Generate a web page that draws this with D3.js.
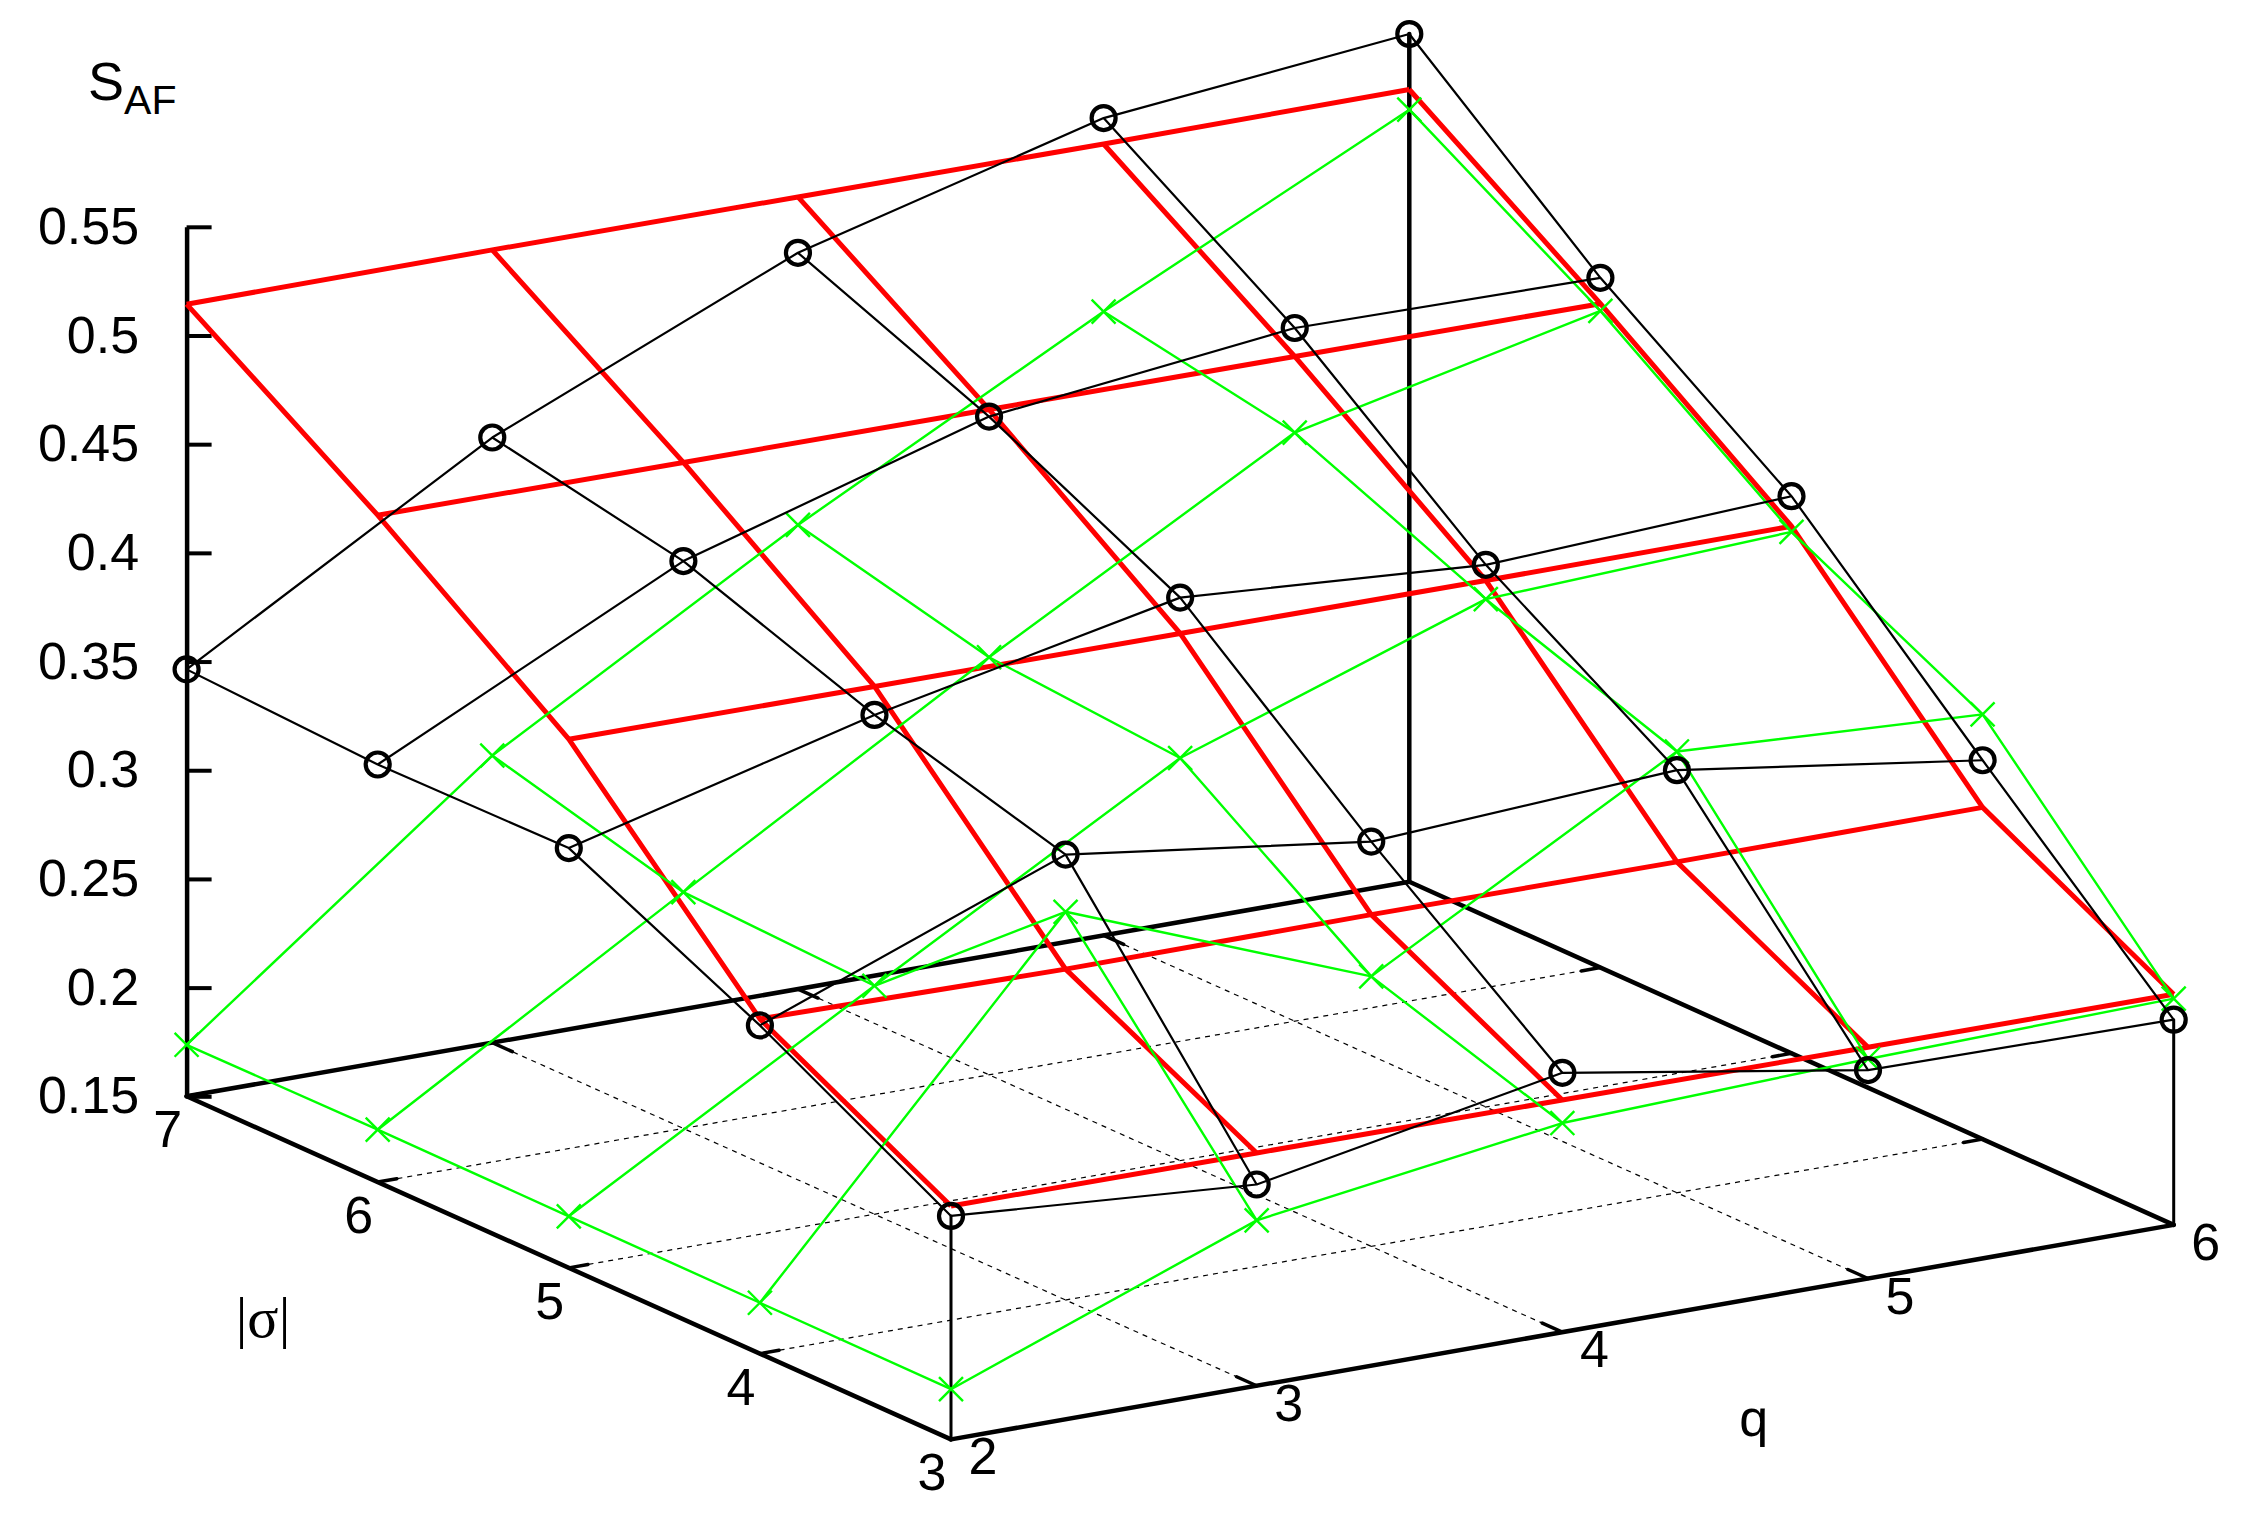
<!DOCTYPE html>
<html>
<head>
<meta charset="utf-8">
<script src="https://cdn.jsdelivr.net/npm/d3@7"></script>
<style>
html,body{margin:0;padding:0;background:#fff;}
text{font-family:"Liberation Sans",Arial,sans-serif;fill:#000;}
</style>
</head>
<body>
<svg id="chart" width="2250" height="1521"></svg>
<script>
const qValues = [2, 3, 4, 5, 6];
const sigmaValues = [3, 4, 5, 6, 7];
const zTicks = [0.15, 0.2, 0.25, 0.3, 0.35, 0.4, 0.45, 0.5, 0.55];
const gridQ = [3, 4, 5];
const gridSigma = [4, 5, 6];

// rows: q = 2..6, columns: |sigma| = 3..7
const blackValues = [
  [0.2528, 0.3010, 0.3431, 0.3421, 0.3464],
  [0.2426, 0.3549, 0.3797, 0.4110, 0.4284],
  [0.2693, 0.3362, 0.4090, 0.4528, 0.4887],
  [0.2459, 0.3444, 0.3994, 0.4689, 0.5260],
  [0.2444, 0.3243, 0.4063, 0.4673, 0.5400]
];
const redValues = [
  [0.2574, 0.3040, 0.3932, 0.4568, 0.5144],
  [0.2571, 0.3022, 0.3928, 0.4564, 0.5147],
  [0.2568, 0.3026, 0.3925, 0.4561, 0.5144],
  [0.2564, 0.3022, 0.3922, 0.4558, 0.5141],
  [0.2561, 0.3026, 0.3925, 0.4554, 0.5145]
];
const greenValues = [
  [0.1731, 0.1734, 0.1737, 0.1741, 0.1737],
  [0.2261, 0.3286, 0.2551, 0.2587, 0.2821],
  [0.2462, 0.2742, 0.3352, 0.3421, 0.3635],
  [0.2510, 0.3530, 0.3836, 0.4208, 0.4370],
  [0.2541, 0.3454, 0.3899, 0.4521, 0.5052]
];

const svg = d3.select("#chart");

// oblique projection built from scales
const xOfQ = d3.scaleLinear().domain([2, 6]).range([951, 2173.7]);
const xOfS = d3.scaleLinear().domain([3, 7]).range([0, -764.4]);
const yOfQ = d3.scaleLinear().domain([2, 6]).range([1439.4, 1224.9]);
const yOfS = d3.scaleLinear().domain([3, 7]).range([0, -343.1]);
const zScale = d3.scaleLinear().domain([0.15, 0.55]).range([1096.3, 226.8]);
const zLift = z => zScale(z) - zScale(0.15);
const P = (q, s, z = 0.15) => [xOfQ(q) + xOfS(s), yOfQ(q) + yOfS(s) + zLift(z)];
const seg = (g, a, b, w, extra) => {
  const l = g.append("line")
    .attr("x1", a[0]).attr("y1", a[1]).attr("x2", b[0]).attr("y2", b[1])
    .attr("stroke", "#000").attr("stroke-width", w);
  if (extra) l.attr("stroke-dasharray", extra);
  return l;
};
const lineGen = d3.line();

// grid
const grid = svg.append("g");
gridQ.forEach(q => seg(grid, P(q, 3), P(q, 7), 1.2, "5 5"));
gridSigma.forEach(s => seg(grid, P(2, s), P(6, s), 1.2, "5 5"));

// frame
const frame = svg.append("g").attr("stroke-linecap", "round");
seg(frame, P(2, 3), P(6, 3), 4.5);
seg(frame, P(2, 3), P(2, 7), 4.5);
seg(frame, P(6, 3), P(6, 7), 4.5);
seg(frame, P(2, 7), P(6, 7), 4.5);
// base ticks
gridQ.forEach(q => {
  seg(frame, P(q, 3), P(q, 3.105), 3.5);
  seg(frame, P(q, 7), P(q, 6.895), 3.5);
});
gridSigma.forEach(s => {
  seg(frame, P(2, s), P(2.0625, s), 3.5);
  seg(frame, P(6, s), P(5.9375, s), 3.5);
});
seg(frame, P(2, 7), P(2.0625, 7), 3.5);
// verticals
seg(frame, P(6, 7), P(6, 7, blackValues[4][4]), 4.5);
seg(frame, P(2, 3), P(2, 3, blackValues[0][0]), 3);
seg(frame, P(6, 3), P(6, 3, blackValues[4][0]), 3);

// z axis
const zAxis = d3.axisLeft(zScale)
  .tickValues(zTicks)
  .tickFormat(d => String(d))
  .tickSizeInner(-25)
  .tickSizeOuter(0)
  .tickPadding(47.5);
const zg = svg.append("g").attr("transform", `translate(${P(2, 7)[0]},0)`).call(zAxis);
zg.select(".domain").attr("stroke", "#000").attr("stroke-width", 4.5);
zg.selectAll(".tick line").attr("stroke", "#000").attr("stroke-width", 4);
zg.selectAll(".tick text").attr("font-size", 52).attr("font-family", '"Liberation Sans",Arial,sans-serif');

// surfaces
function wire(values, color, width) {
  const g = svg.append("g").attr("fill", "none").attr("stroke", color).attr("stroke-width", width).attr("stroke-linejoin", "round");
  qValues.forEach((q, i) => {
    g.append("path").attr("d", lineGen(sigmaValues.map((s, j) => P(q, s, values[i][j]))));
  });
  sigmaValues.forEach((s, j) => {
    g.append("path").attr("d", lineGen(qValues.map((q, i) => P(q, s, values[i][j]))));
  });
  return g;
}
wire(redValues, "#ff0000", 5);

const greenG = wire(greenValues, "#00ff00", 2.4);
qValues.forEach((q, i) => sigmaValues.forEach((s, j) => {
  const [x, y] = P(q, s, greenValues[i][j]);
  greenG.append("path").attr("d", d3.symbol(d3.symbolTimes, 377)()).attr("transform", `translate(${x},${y})`);
}));

const blackG = wire(blackValues, "#000000", 2.2);
qValues.forEach((q, i) => sigmaValues.forEach((s, j) => {
  const [x, y] = P(q, s, blackValues[i][j]);
  blackG.append("circle").attr("cx", x).attr("cy", y).attr("r", 12).attr("stroke-width", 4.2);
}));

// base tick labels
const labels = svg.append("g").attr("font-size", 52);
sigmaValues.forEach(s => {
  const [x, y] = P(2, s);
  labels.append("text").attr("x", x - 19).attr("y", y + 51).attr("text-anchor", "middle").text(s);
});
qValues.forEach(q => {
  const [x, y] = P(q, 3);
  labels.append("text").attr("x", x + 32).attr("y", y + 35).attr("text-anchor", "middle").text(q);
});

// axis titles
const title = svg.append("text").attr("x", 88).attr("y", 99.5).attr("font-size", 54);
title.append("tspan").text("S");
title.append("tspan").attr("font-size", 41).attr("dy", 14.5).attr("dx", 0).text("AF");
svg.append("text").attr("x", 263).attr("y", 1337).attr("text-anchor", "middle")
  .attr("font-size", 58).style("font-family", '"Liberation Serif",serif').text("|σ|");
svg.append("text").attr("x", 1753.6).attr("y", 1435.5).attr("text-anchor", "middle")
  .attr("font-size", 52).text("q");
</script>
</body>
</html>
